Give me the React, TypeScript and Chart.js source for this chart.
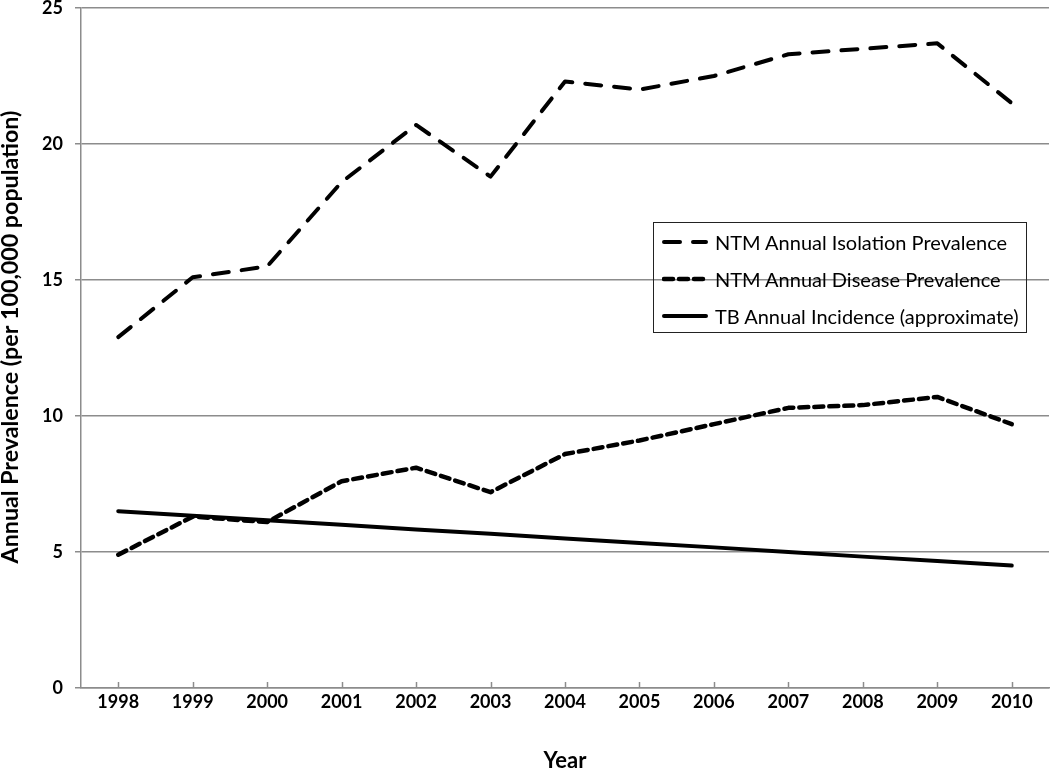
import React, { useEffect, useRef } from "react";
import { Chart, registerables } from "chart.js";

Chart.register(...registerables);

const years = ["1998", "1999", "2000", "2001", "2002", "2003", "2004", "2005", "2006", "2007", "2008", "2009", "2010"];
const isolationPrevalence = [12.9, 15.1, 15.5, 18.6, 20.7, 18.8, 22.3, 22.0, 22.5, 23.3, 23.5, 23.7, 21.5];
const diseasePrevalence = [4.9, 6.3, 6.1, 7.6, 8.1, 7.2, 8.6, 9.1, 9.7, 10.3, 10.4, 10.7, 9.7];
const tbIncidence = [6.5, 6.33, 6.17, 6.0, 5.83, 5.67, 5.5, 5.33, 5.17, 5.0, 4.83, 4.67, 4.5];
const seriesNames = [
  "NTM Annual Isolation Prevalence",
  "NTM Annual Disease Prevalence",
  "TB Annual Incidence (approximate)",
];
const yTitle = "Annual Prevalence (per 100,000 population)";
const dashes = [[16, 13], [9, 6], []];
const widths = [4, 4.5, 4];

const FONT = "Lato, 'Open Sans', sans-serif";

const innerTicks = {
  id: "innerTicks",
  afterDatasetsDraw(chart: any) {
    const x = chart.scales.x;
    const ctx = chart.ctx;
    const bottom = chart.chartArea.bottom;
    ctx.save();
    ctx.strokeStyle = "#8c8c8c";
    ctx.lineWidth = 1.5;
    for (let i = 0; i < years.length; i++) {
      const px = Math.round(x.getPixelForValue(i)) + 0.5;
      ctx.beginPath();
      ctx.moveTo(px, bottom);
      ctx.lineTo(px, bottom - 6);
      ctx.stroke();
    }
    ctx.restore();
  },
};

const yTitlePlugin = {
  id: "yTitlePlugin",
  afterDraw(chart: any) {
    const ctx = chart.ctx;
    ctx.save();
    let size = 21;
    ctx.font = `bold ${size}px ${FONT}`;
    const w = ctx.measureText(yTitle).width;
    size = Math.max(16, Math.min(24, (size * 453) / w));
    ctx.font = `bold ${size}px ${FONT}`;
    ctx.fillStyle = "#000";
    ctx.textAlign = "center";
    ctx.textBaseline = "alphabetic";
    ctx.translate(18, 337);
    ctx.rotate(-Math.PI / 2);
    ctx.fillText(yTitle, 0, 0);
    ctx.restore();
  },
};

function LegendSample({ dash, width }: { dash: number[]; width: number }) {
  return (
    <svg width={46} height={10} style={{ display: "block" }}>
      <line
        x1={2}
        y1={5}
        x2={44}
        y2={5}
        stroke="#000"
        strokeWidth={width}
        strokeLinecap="round"
        strokeDasharray={dash.length ? dash.join(",") : undefined}
      />
    </svg>
  );
}

export default function App() {
  const canvasRef = useRef<HTMLCanvasElement | null>(null);

  useEffect(() => {
    const ctx = canvasRef.current!.getContext("2d")!;
    const data = [isolationPrevalence, diseasePrevalence, tbIncidence];
    const chart = new Chart(ctx, {
      type: "line",
      data: {
        labels: years,
        datasets: data.map((d, i) => ({
          label: seriesNames[i],
          data: d,
          borderColor: "#000",
          backgroundColor: "#000",
          borderWidth: widths[i],
          borderDash: dashes[i],
          borderCapStyle: "round" as const,
          borderJoinStyle: "round" as const,
          pointRadius: 0,
          tension: 0,
          fill: false,
        })),
      },
      options: {
        animation: false,
        responsive: false,
        maintainAspectRatio: false,
        layout: { padding: { top: 8, right: 1, left: 0, bottom: 0 } },
        plugins: {
          legend: { display: false },
          tooltip: { enabled: false },
        },
        scales: {
          x: {
            offset: true,
            grid: { display: false, drawTicks: false },
            border: { display: true, color: "#8c8c8c", width: 1.5 },
            ticks: {
              color: "#000",
              font: { family: FONT, size: 18, weight: "bold" },
              padding: 3,
              maxRotation: 0,
            },
            title: {
              display: true,
              text: "Year",
              color: "#000",
              font: { family: FONT, size: 22, weight: "bold", lineHeight: 1.0 },
              padding: { top: 24, bottom: 0 },
            },
            afterFit(scale: any) {
              scale.height = 84;
              scale.paddingLeft = 0;
              scale.paddingRight = 0;
            },
          },
          y: {
            min: 0,
            max: 25,
            ticks: {
              stepSize: 5,
              color: "#000",
              font: { family: FONT, size: 18, weight: "bold" },
              padding: 12,
            },
            grid: {
              color: "#8c8c8c",
              lineWidth: 1.5,
              drawTicks: true,
              tickLength: 6,
            },
            border: { display: true, color: "#8c8c8c", width: 1.5 },
            title: { display: false },
            afterFit(scale: any) {
              scale.width = 81;
              scale.paddingTop = 0;
              scale.paddingBottom = 0;
            },
          },
        },
      },
      plugins: [innerTicks, yTitlePlugin],
    });
    return () => chart.destroy();
  }, []);

  return (
    <div style={{ position: "fixed", left: 0, top: 0, width: 1050, height: 772, background: "#fff" }}>
      <canvas ref={canvasRef} width={1050} height={772} style={{ display: "block" }} />
      <div
        style={{
          position: "absolute",
          left: 653,
          top: 222,
          width: 374,
          height: 111,
          border: "1.5px solid #222",
          boxSizing: "border-box",
          fontFamily: FONT,
          fontSize: 20,
          color: "#000",
          padding: "0 0 0 8px",
        }}
      >
        {seriesNames.map((n, i) => (
          <div key={n} style={{ display: "flex", alignItems: "center", height: 37 }}>
            <LegendSample dash={dashes[i]} width={widths[i]} />
            <span style={{ marginLeft: 7, whiteSpace: "nowrap" }}>{n}</span>
          </div>
        ))}
      </div>
    </div>
  );
}
